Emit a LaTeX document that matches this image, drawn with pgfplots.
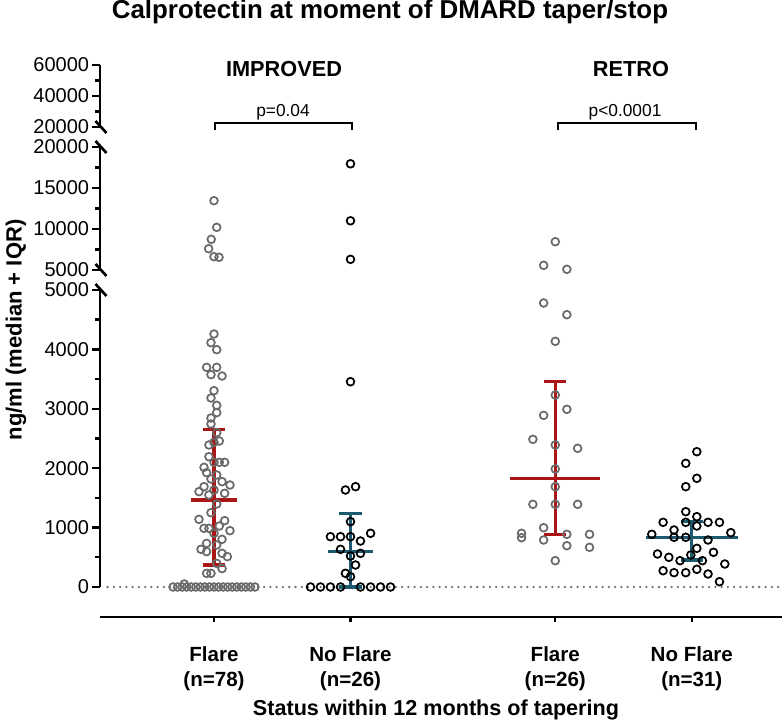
\documentclass[border=0pt]{standalone}
\usepackage{fontspec}
\setmainfont{Liberation Sans}
\usepackage{pgfplots}
\pgfplotsset{compat=1.18}
\definecolor{flaregray}{HTML}{6A6A6A}
\definecolor{barred}{HTML}{AA1515}
\definecolor{barteal}{HTML}{1D5A6E}
\definecolor{dotgray}{HTML}{707070}
\newcommand{\pxy}[2]{({(#1)*0.75pt},{(727-(#2))*0.75pt})}
\newcommand{\ticklabfont}{\fontsize{15}{18}\selectfont}
\pgfplotsset{
  brk/.style={
    scale only axis, width=511.5pt,
    xmin=-0.835, xmax=4.161,
    axis y line*=left, axis x line=none,
    clip=false,
    tick align=outside,
    major tick length=6pt, minor tick length=3.5pt,
    every tick/.style={line width=1.8pt, black},
    axis line style={line width=2pt},
    scaled y ticks=false,
    yticklabel={\ticklabfont\pgfmathprintnumber[assume math mode=true,1000 sep={}]{\tick}},
    every y tick label/.append style={font=\ticklabfont, inner sep=2pt},
  },
  flare/.style={only marks, mark=o, mark size=2.9pt, flaregray, mark options={line width=1.3pt}},
  noflare/.style={only marks, mark=o, mark size=2.9pt, black, mark options={line width=1.3pt}},
  ebr/.style={barred, line width=2.4pt, no marks},
  ebt/.style={barteal, line width=2.4pt, no marks},
}
\begin{document}
\begin{tikzpicture}
\useasboundingbox (0,0) rectangle (588pt,545.25pt);

% ---------- top segment ----------
\begin{axis}[brk, at={(75pt,450pt)}, anchor=south west, height=46.5pt,
  ymin=20000, ymax=60000, ytick={20000,40000,60000}, minor ytick={30000,50000}]
\end{axis}

% ---------- middle segment ----------
\begin{axis}[brk, at={(75pt,342.75pt)}, anchor=south west, height=92.25pt,
  ymin=5000, ymax=20000, ytick={5000,10000,15000,20000}, minor ytick={7500,12500,17500}]
\addplot[flare] coordinates {(0,13450) (0.020,10200) (-0.020,8740) (-0.039,7600) (0,6620) (0.037,6550)};
\addplot[noflare] coordinates {(1,17950) (1,11000) (1,6300)};
\addplot[flare] coordinates {(2.5,8450) (2.415,5573) (2.585,5085)};
\end{axis}

% ---------- bottom segment ----------
\begin{axis}[brk, at={(75pt,105pt)}, anchor=south west, height=222.75pt,
  ymin=0, ymax=5000, ytick={0,1000,2000,3000,4000,5000}, minor ytick={500,1500,2500,3500,4500}]
\addplot[dotgray, line width=1.9pt, dash pattern=on 0pt off 4.7pt, line cap=round] coordinates {(-0.78,0) (4.161,0)};
% IMPROVED flare
\addplot[flare] coordinates {
(0,4259) (-0.022,4113) (0.020,3995) (-0.054,3698) (0.020,3698) (-0.022,3575) (0.059,3552)
(0,3305) (-0.022,3182) (0.020,3058) (0.020,2935) (-0.022,2845) (-0.022,2744) (0.020,2598)
(0.039,2458) (0,2436) (-0.037,2391) (-0.037,2194) (0,2099) (0.039,2099) (0.078,2099)
(-0.073,2015) (-0.054,1925) (0.020,1886) (-0.022,1818) (0.059,1773) (0.117,1717) (-0.073,1689)
(0,1633) (-0.11,1605) (0.078,1577) (-0.037,1549) (0.020,1397) (-0.022,1251) (-0.11,1139)
(0.078,1117) (0.039,1027) (-0.073,988) (-0.037,988) (0.117,948) (0,904) (0.059,803)
(-0.054,735) (0.020,707) (-0.095,634) (-0.054,595) (0.059,567) (0.098,511) (0.020,398)
(0.059,309) (-0.054,230) (-0.022,230) (-0.218,50)
(-0.300,0) (-0.267,0) (-0.233,0) (-0.200,0) (-0.167,0) (-0.133,0) (-0.100,0) (-0.067,0)
(-0.033,0) (0,0) (0.033,0) (0.067,0) (0.100,0) (0.133,0) (0.167,0) (0.200,0) (0.233,0)
(0.267,0) (0.300,0)};
% IMPROVED no flare
\addplot[noflare] coordinates {
(1,3456) (0.963,1633) (1.037,1689) (1,1100) (0.853,847) (0.927,847) (1,847) (1.073,774)
(1.147,904) (0.927,634) (1,522) (1.073,567) (1.037,370) (0.963,230) (1,174)
(0.707,0) (0.780,0) (0.853,0) (0.927,0) (1.073,0) (1.147,0) (1.220,0) (1.293,0)};
% RETRO flare
\addplot[flare] coordinates {
(2.415,4781) (2.585,4584) (2.5,4136) (2.5,3232) (2.585,2991) (2.415,2890) (2.336,2486)
(2.5,2391) (2.664,2335) (2.5,1987) (2.5,1689) (2.336,1392) (2.5,1392) (2.664,1392)
(2.415,998) (2.253,904) (2.253,830) (2.585,887) (2.751,887) (2.415,791) (2.585,695)
(2.751,668) (2.5,443)};
% RETRO no flare
\addplot[noflare] coordinates {
(3.537,2278) (3.456,2082) (3.537,1830) (3.456,1689) (3.456,1268) (3.537,1184) (3.290,1089)
(3.456,1089) (3.619,1089) (3.703,1089) (3.537,1027) (3.370,960) (3.207,887) (3.786,915)
(3.370,837) (3.456,837) (3.619,791) (3.537,651) (3.249,556) (3.659,584) (3.493,539)
(3.332,500) (3.414,443) (3.578,443) (3.742,387) (3.290,274) (3.370,241) (3.456,241)
(3.537,298) (3.619,219) (3.703,89)};
% error bars: median + IQR
\addplot[ebr] coordinates {(0,370) (0,2654)};
\addplot[ebr] coordinates {(-0.082,370) (0.082,370)};
\addplot[ebr] coordinates {(-0.082,2654) (0.082,2654)};
\addplot[ebr] coordinates {(-0.165,1465) (0.165,1465)};
\addplot[ebt] coordinates {(1,0) (1,1240)};
\addplot[ebt] coordinates {(0.918,0) (1.082,0)};
\addplot[ebt] coordinates {(0.918,1240) (1.082,1240)};
\addplot[ebt] coordinates {(0.835,595) (1.165,595)};
\addplot[ebr] coordinates {(2.5,887) (2.5,3463)};
\addplot[ebr] coordinates {(2.418,887) (2.582,887)};
\addplot[ebr] coordinates {(2.418,3463) (2.582,3463)};
\addplot[ebr] coordinates {(2.17,1830) (2.83,1830)};
\addplot[ebt] coordinates {(3.5,455) (3.5,1100)};
\addplot[ebt] coordinates {(3.418,455) (3.582,455)};
\addplot[ebt] coordinates {(3.418,1100) (3.582,1100)};
\addplot[ebt] coordinates {(3.165,837) (3.835,837)};
\end{axis}

% ---------- x axis ----------
\begin{axis}[scale only axis, width=511.5pt, height=20pt, at={(75pt,82.5pt)}, anchor=south west,
  xmin=-0.835, xmax=4.161, ymin=0, ymax=1,
  axis x line*=bottom, axis y line=none,
  axis line style={line width=2pt},
  tick align=outside, major tick length=4pt,
  every tick/.style={line width=1.8pt, black},
  xtick={0,1,2.5,3.5},
  xticklabels={{Flare\\[1pt](n=78)},{No Flare\\[1pt](n=26)},{Flare\\[1pt](n=26)},{No Flare\\[1pt](n=31)}},
  xticklabel style={align=center, font=\bfseries\fontsize{15.4}{17.5}\selectfont, yshift=-15pt},
]
\end{axis}

% ---------- axis breaks ----------
\foreach \yy in {127,147,270,290} {
  \draw[line width=2pt] \pxy{95.5}{\yy-6} -- \pxy{106.5}{\yy+6};
}

% ---------- annotations ----------
\draw[line width=1pt] \pxy{215}{130} -- \pxy{215}{123} -- \pxy{352}{123} -- \pxy{352}{130};
\draw[line width=1pt] \pxy{558}{130} -- \pxy{558}{123} -- \pxy{696}{123} -- \pxy{696}{130};
\node[anchor=base, font=\fontsize{13}{15}\selectfont] at \pxy{283}{117} {p=0.04};
\node[anchor=base, font=\fontsize{13}{15}\selectfont] at \pxy{625}{117} {p<0.0001};
\node[anchor=base, font=\bfseries\fontsize{16.3}{19}\selectfont] at \pxy{284}{77} {IMPROVED};
\node[anchor=base, font=\bfseries\fontsize{16.3}{19}\selectfont] at \pxy{631}{77} {RETRO};
\node[anchor=base, font=\bfseries\fontsize{19.4}{22}\selectfont] at \pxy{390}{19} {Calprotectin at moment of DMARD taper/stop};
\node[anchor=base, font=\bfseries\fontsize{16.2}{19}\selectfont] at \pxy{436}{715} {Status within 12 months of tapering};
\node[rotate=90, font=\bfseries\fontsize{16.5}{19}\selectfont] at \pxy{16}{330} {ng/ml (median + IQR)};
\end{tikzpicture}
\end{document}
